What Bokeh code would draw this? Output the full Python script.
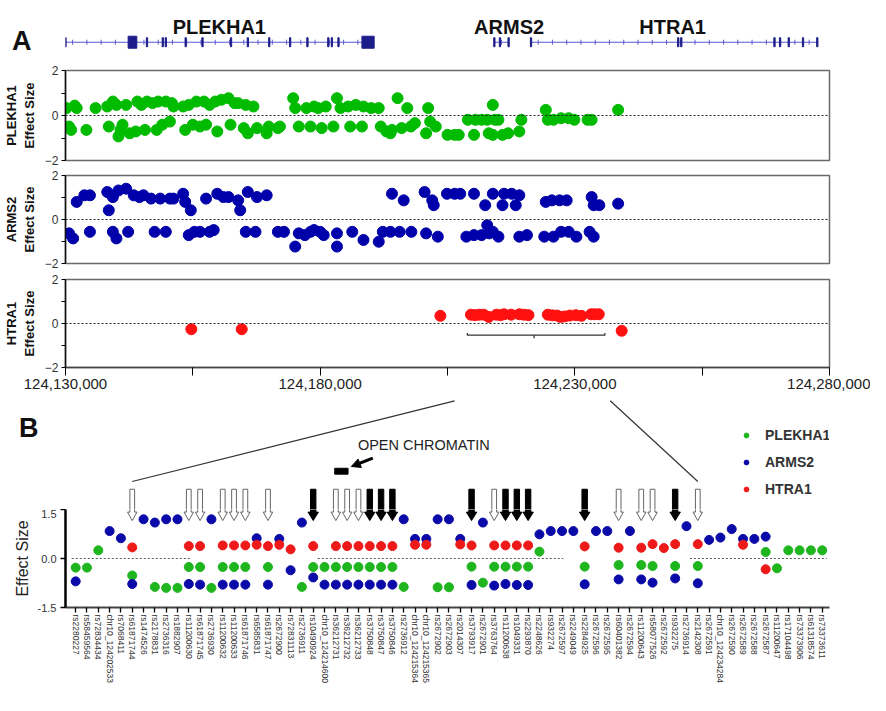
import numpy as np
from bokeh.plotting import figure
from bokeh.layouts import column
from bokeh.models import (Range1d, FixedTicker, NumeralTickFormatter, PrintfTickFormatter,
                          Span, Legend, LegendItem, Arrow, NormalHead)
from bokeh.core.properties import value
from bokeh.embed import file_html
from bokeh.resources import INLINE

SANS = "Liberation Sans"

# ---------------- data: panel A (positions in kb after 124,130,000) ----------------
X0, X1 = 124130000, 124280000
x_ticks = [124130000, 124180000, 124230000, 124280000]
x_minor = [124155000, 124205000, 124255000]

gene_names = ["PLEKHA1", "ARMS2", "HTRA1"]
gene_start_kb = [0.0, 84.2, 91.4]
gene_end_kb = [60.6, 87.0, 147.6]
gene_label_kb = [30.2, 87.1, 119.2]
exon_kb = [0.0, 16.0, 19.1, 19.7, 23.6, 26.9, 32.5, 35.8, 40.0, 44.1, 47.5, 51.6, 52.3, 53.6,
           84.2, 85.3, 87.0, 91.4, 120.3, 120.9, 139.2, 140.3, 142.0, 144.8, 147.6]
big_exon_start_kb = [12.3, 58.2]
big_exon_end_kb = [14.0, 60.6]

plekha1_kb = [0.2, 0.7, 1.1, 1.8, 2.2, 4.1, 5.9, 8.2, 8.5, 9.3,
              10.0, 10.4, 10.8, 11.2, 11.9, 12.6, 13.8, 14.1, 14.9, 15.6,
              16.0, 17.1, 17.9, 18.2, 19.0, 19.7, 20.5, 20.9, 21.2, 23.1,
              23.5, 24.2, 25.0, 25.7, 26.4, 27.2, 27.6, 28.3, 29.4, 29.8,
              30.6, 32.0, 32.4, 33.2, 33.9, 35.0, 35.4, 35.8, 36.9, 37.6,
              39.5, 39.9, 41.7, 42.1, 44.7, 45.1, 45.8, 47.3, 48.1, 48.8,
              49.6, 50.3, 51.1, 52.6, 53.3, 54.0, 55.5, 55.9, 57.0, 58.2,
              58.5, 60.0, 61.5, 61.9, 63.0, 63.8, 64.1, 65.2, 66.0, 67.1,
              67.8, 68.6, 70.8, 71.2, 71.6, 72.7, 75.0, 76.4, 77.2, 79.0,
              80.2, 80.5, 81.7, 82.8, 83.1, 83.9, 84.3, 85.0, 83.9, 85.8,
              86.9, 89.1, 89.5, 94.3, 94.7, 95.8, 97.3, 98.8, 99.9, 102.5,
              103.3, 108.5]
plekha1_eff = [0.33, -0.49, -0.64, 0.44, 0.33, -0.64, 0.33, 0.40, -0.49, 0.62,
               0.47, -0.93, -0.64, -0.41, 0.47, -0.79, -0.71, 0.62, 0.47, -0.64,
               0.62, 0.55, -0.64, 0.62, -0.41, 0.62, -0.27, 0.55, 0.40, 0.40,
               -0.64, 0.47, -0.41, 0.62, -0.49, 0.62, -0.41, 0.47, 0.62, -0.71,
               0.70, 0.77, -0.41, 0.55, 0.55, -0.56, 0.47, -0.79, 0.40, -0.56,
               -0.79, -0.49, -0.56, -0.49, 0.77, 0.33, -0.49, 0.33, -0.49, 0.40,
               0.33, -0.56, 0.40, -0.49, 0.77, 0.33, 0.40, -0.49, 0.47, -0.49,
               0.40, 0.33, 0.33, -0.49, -0.71, -0.79, -0.64, 0.77, -0.56, 0.33,
               -0.49, -0.34, -0.79, 0.33, -0.27, -0.49, -0.86, -0.86, -0.86, -0.19,
               -0.86, -0.19, -0.19, -0.19, -0.79, 0.47, -0.19, -0.19, -0.86, -0.86,
               -0.79, -0.71, -0.19, 0.25, -0.19, -0.19, -0.12, -0.12, -0.19, -0.19,
               -0.19, 0.25]

arms2_kb = [0.7, 1.5, 2.2, 3.7, 4.8, 4.8, 8.2, 8.5, 9.3, 10.0,
            9.3, 10.4, 11.9, 12.3, 13.4, 14.5, 15.3, 16.8, 17.5, 18.6,
            19.7, 20.5, 21.2, 23.1, 23.5, 24.2, 24.6, 25.3, 26.4, 27.6,
            28.3, 29.1, 29.8, 31.0, 32.0, 33.9, 34.3, 35.4, 35.8, 37.3,
            37.6, 39.5, 41.7, 42.9, 45.1, 45.8, 47.0, 48.1, 48.8, 50.0,
            50.7, 53.3, 53.3, 56.3, 58.5, 61.5, 62.3, 63.8, 65.6, 67.9,
            70.8, 73.1, 64.1, 66.4, 70.5, 72.0, 72.3, 74.9, 76.4, 77.5,
            80.2, 82.4, 83.2, 83.9, 85.8, 86.1, 87.6, 88.4, 89.1, 78.7,
            80.2, 81.7, 82.8, 83.9, 85.0, 89.1, 90.6, 94.3, 95.5, 97.0,
            98.4, 94.0, 95.8, 97.3, 98.8, 100.3, 102.9, 103.7, 103.3, 103.7,
            104.8, 108.5]
arms2_eff = [-0.63, -0.86, 0.80, 1.10, 1.10, -0.56, 1.25, 0.42, -0.56, -0.86,
             1.02, 1.32, 1.40, -0.56, 1.10, 1.02, 1.10, 0.95, -0.56, 0.95,
             -0.56, 0.95, 0.95, 1.17, 0.80, -0.71, 0.42, -0.56, -0.56, 0.95,
             -0.56, -0.48, 1.17, 1.02, 1.02, 0.87, 0.42, -0.56, 1.25, -0.56,
             1.02, 1.10, -0.56, -0.56, -1.23, -0.63, -0.71, -0.56, -0.48, -0.56,
             -0.71, -0.63, -1.23, -0.56, -0.93, -1.01, -0.56, -0.56, -0.56, -0.56,
             -0.63, -0.78, 1.17, 0.87, 1.25, 0.87, 0.65, 1.17, 1.17, 1.17,
             1.17, 0.65, -0.63, 1.17, 0.65, 1.17, 1.17, 0.65, 1.10, -0.78,
             -0.71, -0.71, -0.26, -0.56, -0.78, -0.78, -0.71, 0.80, 0.87, 0.87,
             0.87, -0.78, -0.78, -0.56, -0.56, -0.78, -0.56, -0.78, 1.02, 0.65,
             0.65, 0.72]

htra1_kb = [24.7, 34.6, 73.6, 79.6, 80.4, 81.2, 82.1, 83.1, 84.6, 85.4, 86.1, 87.5,
            89.1, 90.0, 90.9, 94.7, 95.6, 96.5, 97.2, 98.0, 99.0, 100.2, 101.3,
            103.2, 103.9, 104.7, 109.2]
htra1_eff = [-0.26, -0.26, 0.35, 0.40, 0.38, 0.40, 0.40, 0.30, 0.40, 0.38, 0.42, 0.40,
             0.42, 0.40, 0.38, 0.40, 0.37, 0.36, 0.30, 0.32, 0.36, 0.38, 0.35,
             0.42, 0.42, 0.42, -0.33]

bracket_bp = [124208900, 124235900]
bracket_mid_bp = 124222000
bracket_eff = -0.53

# ---------------- data: panel B ----------------
snp_names = ["rs2280227", "rs58459564", "rs72834434", "chr10_124202533", "rs7068411",
             "rs61871744", "rs1474526", "rs2178831", "rs2736316", "rs1882907",
             "rs11200630", "rs61871745", "rs2736930", "rs11200632", "rs11200633",
             "rs61871746", "rs6585831", "rs61871747", "rs2672900", "rs72831113",
             "rs2736911", "rs10490924", "chr10_124214600", "rs36212731", "rs36212732",
             "rs36212733", "rs3750848", "rs3750847", "rs3750846", "rs2736912",
             "chr10_124215364", "chr10_124215365", "rs2672902", "rs2672903", "rs2014307",
             "rs3793917", "rs2672901", "rs3763764", "rs11200638", "rs1049331",
             "rs2293870", "rs2248626", "rs932274", "rs2672597", "rs2249049",
             "rs2284925", "rs2672596", "rs2672595", "rs60401382", "rs2672594",
             "rs11200643", "rs58077526", "rs2672592", "rs932275", "rs2736914",
             "rs2142308", "rs2672591", "chr10_124234284", "rs2672590", "rs2672589",
             "rs2672588", "rs2672587", "rs11200647", "rs17104498", "rs73373906",
             "rs61318574", "rs73373611"]

b_plekha1 = [-0.28, -0.28, 0.25, None, None, -0.52, None, -0.87, -0.90, -0.90,
             -0.26, -0.26, -0.90, -0.26, -0.26, -0.26, None, -0.26, None, None,
             -0.87, -0.26, -0.26, -0.26, -0.26, -0.26, -0.26, -0.26, -0.26, -0.87,
             None, None, -0.88, -0.88, None, -0.25, -0.74, -0.25, -0.25, -0.25,
             -0.25, 0.21, None, None, None, -0.25, None, None, -0.20, None,
             -0.20, -0.23, None, -0.23, None, -0.23, None, None, None, None,
             None, 0.20, -0.30, 0.25, 0.25, 0.25, 0.25]
b_arms2 = [-0.70, None, None, 0.84, 0.62, -0.78, 1.20, 1.10, 1.20, 1.20,
           -0.78, -0.80, 1.20, -0.80, -0.80, -0.80, 0.62, -0.80, 0.60, -0.36,
           1.10, -0.58, -0.80, -0.80, -0.80, -0.80, -0.80, -0.80, -0.80, 1.20,
           0.60, 0.60, 1.20, 1.20, 0.60, -0.81, 1.10, -0.83, -0.78, -0.81,
           -0.81, 0.74, 0.84, 0.84, 0.84, -0.79, 0.84, 0.84, -0.64, 0.84,
           -0.64, -0.74, None, -0.61, 0.99, -0.76, 0.57, 0.64, 0.90, 0.60,
           0.60, 0.67, None, None, None, None, None]
b_htra1 = [None, None, None, None, None, 0.34, None, None, None, None,
           0.38, 0.38, None, 0.40, 0.40, 0.40, 0.42, 0.38, 0.42, 0.28,
           None, 0.38, None, 0.38, 0.38, 0.38, 0.38, 0.38, 0.38, None,
           0.42, 0.42, None, None, 0.43, 0.40, None, 0.40, 0.40, 0.40,
           0.40, None, None, None, None, 0.37, None, None, 0.33, None,
           0.33, 0.44, 0.32, 0.44, None, 0.44, None, None, None, 0.42,
           None, -0.33, None, None, None, None, None]

open_arrow_idx = [5, 10, 11, 13, 14, 15, 17, 23, 24, 25, 37, 48, 50, 51, 55]
filled_arrow_idx = [21, 26, 27, 28, 35, 38, 39, 40, 45, 53]
zero_line_from = [-0.35, 21.4, 54.3]
zero_line_to = [10.1, 43.1, 66.4]
zoom_bp = [124206400, 124236950]
zoom_snp_idx = [5, 55]

# ---------------- styles / layout ----------------
GREEN_A, BLUE_A, RED_A = "#00bb00", "#0000aa", "#ff1111"
GREEN_B, BLUE_B, RED_B = "#1fb51f", "#0a0aa8", "#ee1a1a"
GENE_LINE, EXON = "#5a5ad2", "#1c1c8a"

W = 870
LEFT, RIGHT = 59, 41
FRAME_W = W - LEFT - RIGHT

B_PX_PER_UNIT = 98.0 / 3.0
B_PX_PER_SNP = 11.4
B_X_START = -0.90
B_X_END = B_X_START + FRAME_W / B_PX_PER_SNP
BTOP_H = 112
BTOP_Y_END = 1.5 + BTOP_H / B_PX_PER_UNIT


def kb2bp(kbs):
    return [X0 + k * 1000.0 for k in kbs]


def make_fig(height, top, bottom, xr, yr, x_axis=True, y_axis=True):
    kw = dict(width=W, height=height, x_range=xr, y_range=yr, output_backend="svg",
              toolbar_location=None, min_border_left=LEFT, min_border_right=RIGHT,
              min_border_top=top, min_border_bottom=bottom)
    if not x_axis:
        kw["x_axis_location"] = None
    if not y_axis:
        kw["y_axis_location"] = None
    p = figure(**kw)
    p.grid.visible = False
    return p


def letter_axis(p, y, text, standoff):
    ax = p.yaxis[0]
    ax.ticker = FixedTicker(ticks=[y], minor_ticks=[])
    ax.major_label_overrides = {y: text}
    ax.axis_line_color = None
    ax.major_tick_line_color = None
    ax.minor_tick_line_color = None
    ax.major_tick_out = 0
    ax.major_tick_in = 0
    ax.major_label_standoff = standoff
    ax.major_label_text_font = SANS
    ax.major_label_text_font_size = "27px"
    ax.major_label_text_font_style = "bold"
    ax.major_label_text_color = "#111111"


# ---- gene track ----
g = make_fig(62, 0, 0, Range1d(X0, X1), Range1d(0, 1), x_axis=False)
g.outline_line_color = None
TRACK_Y = 0.327
g.segment(x0=kb2bp(gene_start_kb), y0=TRACK_Y, x1=kb2bp(gene_end_kb), y1=TRACK_Y,
          line_color=GENE_LINE, line_width=1.2)
intron_marks = []
for s, e in zip(gene_start_kb, gene_end_kb):
    intron_marks.extend(np.arange(s + 1.4, e - 0.5, 2.8).tolist())
g.scatter(x=kb2bp(intron_marks), y=TRACK_Y, marker="dash", angle=np.pi / 2, size=5,
          line_color=GENE_LINE, line_width=1)
g.rect(x=kb2bp(exon_kb), y=TRACK_Y, width=250, height=9, height_units="screen",
       fill_color=EXON, line_color=EXON, line_width=1)
bx = [X0 + (s + e) * 500.0 for s, e in zip(big_exon_start_kb, big_exon_end_kb)]
bw = [(e - s) * 1000.0 for s, e in zip(big_exon_start_kb, big_exon_end_kb)]
g.rect(x=bx, y=TRACK_Y, width=bw, height=12, height_units="screen",
       fill_color=EXON, line_color=EXON)
g.text(x=kb2bp(gene_label_kb), y=0.569, text=gene_names, text_font=value(SANS),
       text_font_style="bold", text_font_size="20px", text_align="center",
       text_baseline="middle", text_color="#111111")
letter_axis(g, 0.347, "A", 34)


# ---- panel A ----
def panel_a(height, top, bottom, kb, eff, color, name, show_x):
    p = make_fig(height, top, bottom, Range1d(X0, X1), Range1d(-2, 2), x_axis=show_x)
    p.outline_line_color = "#6a6a6a"
    p.outline_line_width = 1.5
    p.add_layout(Span(location=0, dimension="width", line_color="#222222",
                      line_dash="2 2", line_width=1.2))
    p.scatter(kb2bp(kb), eff, size=11, fill_color=color, line_color=color)
    ya = p.yaxis[0]
    ya.ticker = FixedTicker(ticks=[-2, 0, 2], minor_ticks=[-1, 1])
    ya.axis_line_color = "#111111"
    ya.axis_line_width = 1.5
    ya.major_tick_out = 4
    ya.major_tick_in = 0
    ya.minor_tick_out = 4
    ya.minor_tick_in = 0
    ya.major_label_text_font = SANS
    ya.major_label_text_font_size = "12px"
    ya.major_label_text_color = "#333333"
    ya.major_label_standoff = 3
    ya.axis_label = name + "\nEffect Size"
    ya.axis_label_text_font = SANS
    ya.axis_label_text_font_size = "13px"
    ya.axis_label_text_font_style = "bold"
    ya.axis_label_text_color = "#111111"
    ya.axis_label_standoff = 5
    if show_x:
        xa = p.xaxis[0]
        xa.ticker = FixedTicker(ticks=x_ticks, minor_ticks=x_minor)
        xa.formatter = NumeralTickFormatter(format="0,0")
        xa.axis_line_color = "#444444"
        xa.axis_line_width = 1.5
        xa.major_tick_out = 8
        xa.major_tick_in = 0
        xa.minor_tick_out = 8
        xa.minor_tick_in = 0
        xa.major_label_text_font = SANS
        xa.major_label_text_font_size = "15px"
        xa.major_label_text_color = "#222222"
        xa.major_label_standoff = 3
    return p


a1 = panel_a(105, 8, 7, plekha1_kb, plekha1_eff, GREEN_A, "PLEKHA1", False)
a2 = panel_a(104, 8, 8, arms2_kb, arms2_eff, BLUE_A, "ARMS2", False)
a3 = panel_a(126, 8, 30, htra1_kb, htra1_eff, RED_A, "HTRA1", True)
a3.line(x=[bracket_bp[0], bracket_bp[0], bracket_bp[1], bracket_bp[1]],
        y=[bracket_eff + 0.1, bracket_eff, bracket_eff, bracket_eff + 0.1],
        line_color="#333333", line_width=1.3)
a3.segment(x0=[bracket_mid_bp], y0=[bracket_eff], x1=[bracket_mid_bp], y1=[bracket_eff - 0.14],
           line_color="#333333", line_width=1.3)

# ---- panel B (upper strip: annotations, arrows, legend) ----
ARROW_TOP, ARROW_NECK, ARROW_TIP = 2.12, 1.42, 1.16


def arrow_shapes(ids, shaft, head):
    xs, ys = [], []
    for i in ids:
        xs.append([i - shaft, i + shaft, i + shaft, i + head, i, i - head, i - shaft])
        ys.append([ARROW_TOP, ARROW_TOP, ARROW_NECK, ARROW_NECK, ARROW_TIP, ARROW_NECK, ARROW_NECK])
    return xs, ys


def draw_arrows(p):
    oxs, oys = arrow_shapes(open_arrow_idx, 0.21, 0.42)
    p.patches(oxs, oys, fill_color="white", line_color="#666666", line_width=1)
    fxs, fys = arrow_shapes(filled_arrow_idx, 0.24, 0.46)
    p.patches(fxs, fys, fill_color="black", line_color="black", line_width=1)


bt = make_fig(BTOP_H, 0, 0, Range1d(B_X_START, B_X_END), Range1d(1.5, BTOP_Y_END), x_axis=False)
bt.outline_line_color = None
letter_axis(bt, 3.98, "B", 27)
draw_arrows(bt)


def bp_to_bidx(bp):
    frame_x = (bp - X0) / (X1 - X0) * FRAME_W
    return B_X_START + frame_x / B_PX_PER_SNP


CONN_TOP = 1.5 + (509 - 400.3) / B_PX_PER_UNIT
CONN_BOTTOM = 1.5 + (509 - 481.0) / B_PX_PER_UNIT
bt.segment(x0=[bp_to_bidx(v) for v in zoom_bp], y0=CONN_TOP, x1=zoom_snp_idx, y1=CONN_BOTTOM,
           line_color="#333333", line_width=1.2)

bt.rect(x=[23.49], y=[2.672], width=1.18, height=0.18, fill_color="black", line_color="black")
bt.add_layout(Arrow(end=NormalHead(size=9, fill_color="black", line_color="black"),
                    x_start=26.27, y_start=3.07, x_end=24.37, y_end=2.816,
                    line_color="black", line_width=3))
bt.text(x=[24.95], y=[3.474], text=["OPEN CHROMATIN"], text_font=value(SANS),
        text_font_size="14.5px", text_align="left", text_baseline="middle", text_color="#222222")

# legend proxies (no visible point; they only carry the legend glyph style)
lg = bt.scatter([np.nan], [np.nan], size=9, fill_color=GREEN_B, line_color=GREEN_B)
lb = bt.scatter([np.nan], [np.nan], size=9, fill_color=BLUE_B, line_color=BLUE_B)
lr = bt.scatter([np.nan], [np.nan], size=9, fill_color=RED_B, line_color=RED_B)
legend = Legend(items=[LegendItem(label="PLEKHA1", renderers=[lg]),
                       LegendItem(label="ARMS2", renderers=[lb]),
                       LegendItem(label="HTRA1", renderers=[lr])],
                location=(675, 10), orientation="vertical", border_line_color=None,
                background_fill_alpha=0, padding=0, margin=0, spacing=7,
                glyph_width=12, glyph_height=20, label_height=20, label_standoff=13,
                label_text_font=SANS, label_text_font_size="14px",
                label_text_font_style="bold", label_text_color="#333333")
bt.add_layout(legend)

# ---- panel B (main dot plot) ----
b = make_fig(194, 0, 96, Range1d(B_X_START, B_X_END), Range1d(-1.5, 1.5))
b.outline_line_color = None
idx = list(range(len(snp_names)))
b.segment(x0=zero_line_from, y0=0, x1=zero_line_to, y1=0, line_color="#555555",
          line_dash="2 2", line_width=1)
draw_arrows(b)
b.scatter(idx, np.array(b_plekha1, dtype=float), size=9, fill_color=GREEN_B, line_color=GREEN_B)
b.scatter(idx, np.array(b_arms2, dtype=float), size=9, fill_color=BLUE_B, line_color=BLUE_B)
b.scatter(idx, np.array(b_htra1, dtype=float), size=9, fill_color=RED_B, line_color=RED_B)

ya = b.yaxis[0]
ya.ticker = FixedTicker(ticks=[-1.5, 0, 1.5], minor_ticks=[])
ya.formatter = PrintfTickFormatter(format="%.1f")
ya.axis_line_color = "black"
ya.axis_line_width = 2.5
ya.major_tick_out = 5
ya.major_tick_in = 0
ya.major_tick_line_width = 1.5
ya.minor_tick_line_color = None
ya.major_label_text_font = SANS
ya.major_label_text_font_size = "11px"
ya.major_label_text_color = "#333333"
ya.major_label_standoff = 4
ya.axis_label = "Effect Size"
ya.axis_label_text_font = SANS
ya.axis_label_text_font_size = "16px"
ya.axis_label_text_font_style = "normal"
ya.axis_label_text_color = "#222222"
ya.axis_label_standoff = 4

xa = b.xaxis[0]
xa.ticker = FixedTicker(ticks=idx, minor_ticks=[])
xa.major_label_overrides = {i: n for i, n in enumerate(snp_names)}
xa.major_label_orientation = "vertical"
xa.major_label_text_font = SANS
xa.major_label_text_font_size = "8.5px"
xa.major_label_text_color = "#333333"
xa.major_label_standoff = 2
xa.axis_line_color = "#444444"
xa.axis_line_width = 2
xa.major_tick_out = 5
xa.major_tick_in = 0
xa.major_tick_line_width = 1.3
xa.minor_tick_line_color = None

layout = column(g, a1, a2, a3, bt, b, spacing=0)
open("out.html", "w").write(file_html(layout, INLINE))
